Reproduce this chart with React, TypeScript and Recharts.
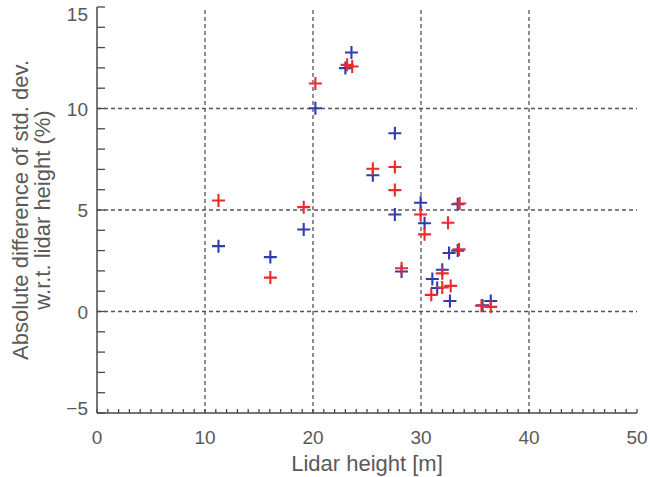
import React from 'react';
import { ScatterChart, Scatter, XAxis, YAxis, ReferenceLine } from 'recharts';

// ---- data ----
const blueX = [11.25, 16.05, 19.14, 20.22, 23.0, 23.56, 25.54, 27.58, 27.58, 28.2, 29.96, 30.33, 31.05, 31.97, 31.5, 32.6, 32.68, 33.4, 33.4, 35.7, 36.46];
const blueY = [3.22, 2.68, 4.04, 10.01, 11.99, 12.76, 6.71, 8.78, 4.78, 1.97, 5.36, 4.35, 1.6, 2.06, 1.16, 2.88, 0.52, 3.0, 5.28, 0.3, 0.52];
const redX = [11.25, 16.05, 19.14, 20.22, 23.16, 23.63, 25.54, 27.58, 27.58, 28.2, 29.96, 30.33, 30.95, 31.97, 31.97, 32.5, 32.75, 33.52, 33.58, 35.6, 36.46];
const redY = [5.47, 1.67, 5.14, 11.23, 12.15, 12.07, 7.03, 7.12, 5.98, 2.13, 4.78, 3.8, 0.82, 1.88, 1.18, 4.37, 1.26, 3.06, 5.32, 0.28, 0.23];

const xMajorTicks = [0, 10, 20, 30, 40, 50];
const yMajorTicks = [-5, 0, 5, 10, 15];
const xGridValues = [10, 20, 30, 40];
const yGridValues = [0, 5, 10];
const xTitle = 'Lidar height [m]';
const yTitleLines = ['Absolute difference of std. dev.', 'w.r.t. lidar height (%)'];

const xMinorTicks = Array.from({ length: 51 }, (_, i) => i);
const yMinorTicks = Array.from({ length: 21 }, (_, i) => i - 5);

const blueData = blueX.map((x, i) => ({ x, y: blueY[i] }));
const redData = redX.map((x, i) => ({ x, y: redY[i] }));

// ---- styles ----
const AXIS = '#4a4a4a';
const TEXT = '#595959';
const GRID = '#555555';
const RED = '#ec2a2c';
const BLUE = '#2e3eae';
const FONT = '"Liberation Sans", Arial, sans-serif';
const TICK_FS = 19;
const TITLE_FS = 22;

const fmt = (v: number) => (v < 0 ? '\u2212' + Math.abs(v) : String(v));

const BottomTick = (props: any) => {
  const { x, y, payload } = props;
  const v = payload.value;
  return (
    <g>
      <line x1={x} x2={x} y1={y} y2={y - 4} stroke={AXIS} strokeWidth={1.3} />
      {xMajorTicks.includes(v) && (
        <text x={x} y={y + 31} textAnchor="middle" fontSize={TICK_FS} fontFamily={FONT} fill={TEXT}>
          {fmt(v)}
        </text>
      )}
    </g>
  );
};

const TopTick = (props: any) => {
  const { x, y } = props;
  return <line x1={x} x2={x} y1={y} y2={y + 4} stroke={AXIS} strokeWidth={1.3} />;
};

const LeftTick = (props: any) => {
  const { x, y, payload } = props;
  const v = payload.value;
  let dy = 7;
  if (v === 15) dy = 14;
  if (v === -5) dy = 2;
  return (
    <g>
      <line x1={x} x2={x + 8} y1={y} y2={y} stroke={AXIS} strokeWidth={1.3} />
      {yMajorTicks.includes(v) && (
        <text x={x - 9} y={y + dy} textAnchor="end" fontSize={TICK_FS} fontFamily={FONT} fill={TEXT}>
          {fmt(v)}
        </text>
      )}
    </g>
  );
};

const RightTick = (props: any) => {
  const { x, y } = props;
  return <line x1={x} x2={x - 8} y1={y} y2={y} stroke={AXIS} strokeWidth={1.3} />;
};

const XTitle = (props: any) => {
  const vb = props.viewBox || {};
  return (
    <text x={vb.x + vb.width / 2} y={vb.y + 58} textAnchor="middle" fontSize={TITLE_FS} fontFamily={FONT} fill={TEXT}>
      {xTitle}
    </text>
  );
};

const YTitle = (props: any) => {
  const vb = props.viewBox || {};
  const cy = vb.y + vb.height / 2;
  const b1 = vb.x - 9;
  const b2 = vb.x + 13;
  return (
    <g>
      <text x={b1} y={cy} transform={`rotate(-90 ${b1} ${cy})`} textAnchor="middle" fontSize={TITLE_FS} fontFamily={FONT} fill={TEXT}>
        {yTitleLines[0]}
      </text>
      <text x={b2} y={cy} transform={`rotate(-90 ${b2} ${cy})`} textAnchor="middle" fontSize={TITLE_FS} fontFamily={FONT} fill={TEXT}>
        {yTitleLines[1]}
      </text>
    </g>
  );
};

const makePlus = (color: string) => (props: any) => {
  const { cx, cy } = props;
  if (cx == null || cy == null) return null;
  const r = 6.5;
  return (
    <path
      d={`M${cx - r},${cy}H${cx + r}M${cx},${cy - r}V${cy + r}`}
      stroke={color}
      strokeWidth={2.1}
      fill="none"
    />
  );
};

export default function App() {
  return (
    <div style={{ position: 'absolute', left: 0, top: 0, width: 650, height: 477, background: '#fff' }}>
      <ScatterChart width={650} height={477} margin={{ top: 7, right: 13, bottom: 34, left: 37 }}>
        <XAxis
          dataKey="x"
          type="number"
          domain={[0, 50]}
          allowDataOverflow
          ticks={xMinorTicks}
          interval={0}
          tickSize={0}
          tickMargin={0}
          tick={<BottomTick />}
          height={30}
          axisLine={{ stroke: AXIS, strokeWidth: 1.5 }}
          tickLine={false}
          label={<XTitle />}
        />
        <XAxis
          xAxisId="top"
          orientation="top"
          type="number"
          domain={[0, 50]}
          allowDataOverflow
          ticks={xMinorTicks}
          interval={0}
          tickSize={0}
          tickMargin={0}
          tick={<TopTick />}
          height={0}
          axisLine={{ stroke: AXIS, strokeWidth: 1.5 }}
          tickLine={false}
        />
        <YAxis
          dataKey="y"
          type="number"
          domain={[-5, 15]}
          allowDataOverflow
          ticks={yMinorTicks}
          interval={0}
          tickSize={0}
          tickMargin={0}
          tick={<LeftTick />}
          width={60}
          axisLine={{ stroke: AXIS, strokeWidth: 1.5 }}
          tickLine={false}
          label={<YTitle />}
        />
        <YAxis
          yAxisId="right"
          orientation="right"
          type="number"
          domain={[-5, 15]}
          allowDataOverflow
          ticks={yMinorTicks}
          interval={0}
          tickSize={0}
          tickMargin={0}
          tick={<RightTick />}
          width={0}
          axisLine={{ stroke: AXIS, strokeWidth: 1.5 }}
          tickLine={false}
        />
        {xGridValues.map((v) => (
          <ReferenceLine key={'gx' + v} x={v} stroke={GRID} strokeWidth={1.3} strokeDasharray="4 3" ifOverflow="visible" />
        ))}
        {yGridValues.map((v) => (
          <ReferenceLine key={'gy' + v} y={v} stroke={GRID} strokeWidth={1.3} strokeDasharray="4 3" ifOverflow="visible" />
        ))}
        <Scatter data={blueData} shape={makePlus(BLUE)} isAnimationActive={false} />
        <Scatter data={redData} shape={makePlus(RED)} isAnimationActive={false} />
      </ScatterChart>
    </div>
  );
}
